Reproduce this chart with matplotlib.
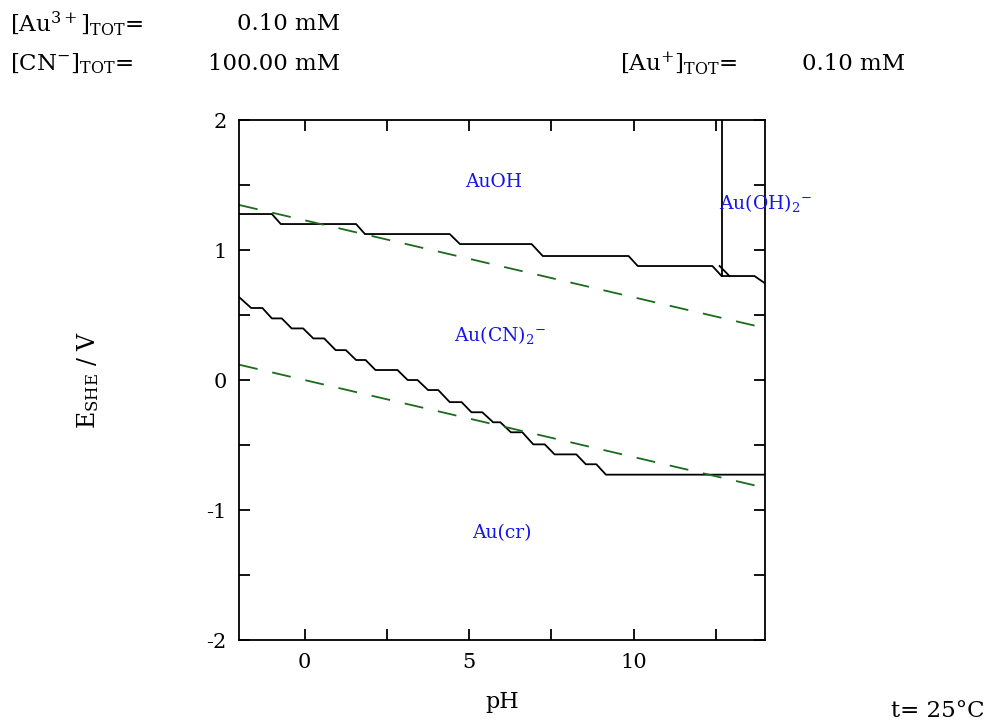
import matplotlib
matplotlib.use("Agg")
import matplotlib.pyplot as plt
from matplotlib.ticker import FixedLocator

plt.rcParams['font.family'] = ['DejaVu Serif']
plt.rcParams['mathtext.fontset'] = 'dejavuserif'
plt.rcParams['lines.scale_dashes'] = False
plt.rcParams['axes.unicode_minus'] = False

# Upper boundary: AuOH / Au(CN)2-
upper_pH = [-2, -1.0, -0.73, 1.56, 1.83, 4.41, 4.72, 6.9, 7.24, 9.85, 10.13, 12.4, 12.68, 13.68, 14]
upper_E = [1.277, 1.277, 1.2, 1.2, 1.123, 1.123, 1.046, 1.046, 0.954, 0.954, 0.877, 0.877, 0.8, 0.8, 0.744]

# Au(OH)2- region boundaries
vert_pH = [12.68, 12.68]
vert_E = [2.0, 0.8]
diag_pH = [12.62, 12.92]
diag_E = [0.877, 0.8]

# Lower boundary: Au(CN)2- / Au(cr)
lower_pH = [-2, -1.63, -1.29, -1.0, -0.7, -0.4, -0.05, 0.26, 0.59, 0.94, 1.25, 1.56, 1.85, 2.15,
            2.82, 3.13, 3.43, 3.75, 4.06, 4.41, 4.77, 5.07, 5.4, 5.73, 5.95, 6.27, 6.62, 6.95,
            7.30, 7.6, 8.26, 8.55, 8.87, 9.16, 14]
lower_E = [0.638, 0.554, 0.554, 0.474, 0.474, 0.397, 0.397, 0.32, 0.32, 0.23, 0.23, 0.154, 0.154, 0.077,
           0.077, 0.0, 0.0, -0.077, -0.077, -0.17, -0.17, -0.248, -0.248, -0.325, -0.325, -0.402, -0.402, -0.495,
           -0.495, -0.572, -0.572, -0.648, -0.648, -0.728, -0.728]

# Water stability lines
water_pH = [-2, 14]
o2_E = [1.347, 0.400]
h2_E = [0.118, -0.829]

# Region labels
labels = ['AuOH', r'Au(OH)$_2$$^{-}$', r'Au(CN)$_2$$^{-}$', 'Au(cr)']
label_pH = [5.75, 12.6, 5.93, 6.0]
label_E = [1.52, 1.36, 0.35, -1.18]
label_ha = ['center', 'left', 'center', 'center']

fig = plt.figure(figsize=(9.89, 7.24), dpi=100)
ax = fig.add_axes([0.2417, 0.116, 0.5318, 0.7182])

lw = 1.3
ax.plot(upper_pH, upper_E, color='black', lw=lw)
ax.plot(vert_pH, vert_E, color='black', lw=lw)
ax.plot(diag_pH, diag_E, color='black', lw=lw)
ax.plot(lower_pH, lower_E, color='black', lw=lw)
ax.plot(water_pH, o2_E, color='#1a6b1a', lw=1.3, dashes=(13.7, 10.8))
ax.plot(water_pH, h2_E, color='#1a6b1a', lw=1.3, dashes=(13.7, 10.8))

for t, x, y, ha in zip(labels, label_pH, label_E, label_ha):
    ax.text(x, y, t, color='#1515e6', fontsize=13.5, ha=ha, va='center', clip_on=False)

ax.set_xlim(-2, 14)
ax.set_ylim(-2, 2)
ax.xaxis.set_major_locator(FixedLocator([0, 5, 10]))
ax.xaxis.set_minor_locator(FixedLocator([2.5, 7.5, 12.5]))
ax.yaxis.set_major_locator(FixedLocator([-2, -1, 0, 1, 2]))
ax.yaxis.set_minor_locator(FixedLocator([-1.5, -0.5, 0.5, 1.5]))
ax.tick_params(which='both', direction='in', length=8, width=1.3,
               top=True, right=True, labelsize=15, pad=9)
for s in ax.spines.values():
    s.set_linewidth(1.3)

ax.set_xlabel('pH', fontsize=16, labelpad=14)
ax.set_ylabel(r'E$_{\rm SHE}$ / V', fontsize=17, labelpad=76)

fs = 16.5
fig.text(10 / 989, 1 - 24 / 724, r'[Au$^{3+}$]$_{\rm TOT}$=', fontsize=fs, va='center', ha='left')
fig.text(340 / 989, 1 - 24 / 724, '0.10 mM', fontsize=fs, va='center', ha='right')
fig.text(10 / 989, 1 - 64 / 724, r'[CN$^{-}$]$_{\rm TOT}$=', fontsize=fs, va='center', ha='left')
fig.text(340 / 989, 1 - 64 / 724, '100.00 mM', fontsize=fs, va='center', ha='right')
fig.text(620 / 989, 1 - 64 / 724, r'[Au$^{+}$]$_{\rm TOT}$=', fontsize=fs, va='center', ha='left')
fig.text(905 / 989, 1 - 64 / 724, '0.10 mM', fontsize=fs, va='center', ha='right')
fig.text(985 / 989, 1 - 711 / 724, 't= 25°C', fontsize=fs, va='center', ha='right')

fig.savefig('out.png', dpi=100)
